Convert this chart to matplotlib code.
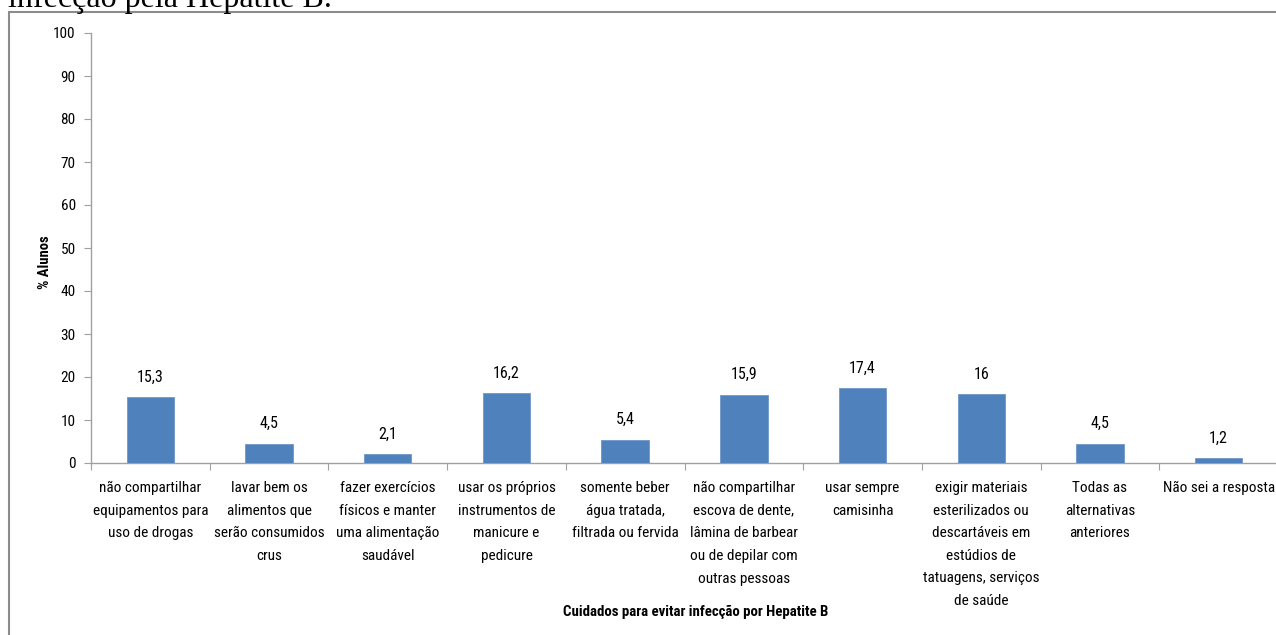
import matplotlib
matplotlib.use("Agg")
import matplotlib.pyplot as plt
from matplotlib import font_manager as fm
from matplotlib.patches import Rectangle

categories = [
    "não compartilhar\nequipamentos para\nuso de drogas",
    "lavar bem os\nalimentos que\nserão consumidos\ncrus",
    "fazer exercícios\nfísicos e manter\numa alimentação\nsaudável",
    "usar os próprios\ninstrumentos de\nmanicure e\npedicure",
    "somente beber\nágua tratada,\nfiltrada ou fervida",
    "não compartilhar\nescova de dente,\nlâmina de barbear\nou de depilar com\noutras pessoas",
    "usar sempre\ncamisinha",
    "exigir materiais\nesterilizados ou\ndescartáveis em\nestúdios de\ntatuagens, serviços\nde saúde",
    "Todas as\nalternativas\nanteriores",
    "Não sei a resposta",
]
values = [15.3, 4.5, 2.1, 16.2, 5.4, 15.9, 17.4, 16.0, 4.5, 1.2]
value_labels = ["15,3", "4,5", "2,1", "16,2", "5,4", "15,9", "17,4", "16", "4,5", "1,2"]
yticks = [0, 10, 20, 30, 40, 50, 60, 70, 80, 90, 100]
ylabel = "% Alunos"
xlabel = "Cuidados para evitar infecção por Hepatite B"
top_text = "infecção pela Hepatite B."

names = {f.name for f in fm.fontManager.ttflist}
fam = "Roboto"
for cand in ["Liberation Sans Narrow", "DejaVu Sans Condensed", "Roboto Condensed", "Open Sans Condensed"]:
    if cand in names:
        fam = cand
        break
plt.rcParams["font.family"] = [fam, "DejaVu Sans"]
narrow = fam != "Roboto"
fs = 11 if narrow else 10

W, H = 1276, 635
fig = plt.figure(figsize=(W / 100, H / 100), dpi=100)

# outer frame
fig.patches.append(Rectangle((9 / W, -0.2), 1.2, 1 - 12 / H + 0.2, transform=fig.transFigure,
                             fill=False, edgecolor="#8c8c8c", linewidth=1.5))
fig.text(8 / W, 1 - 7 / H, top_text, family="Liberation Serif", fontsize=23,
         ha="left", va="baseline", color="black")

ax = fig.add_axes([91 / W, 1 - 463 / H, (1278 - 91) / W, (463 - 33) / H])
n = len(categories)
x = list(range(n))
ax.bar(x, values, width=0.4, color="#4F81BD", edgecolor="#7097C9", linewidth=0.6, zorder=3)
for xi, v, lab in zip(x, values, value_labels):
    ax.annotate(lab, (xi, v), xytext=(0, 9), textcoords="offset points",
                ha="center", va="bottom", fontsize=fs + 0.5)

ax.set_xlim(-0.5, n - 0.5)
ax.set_ylim(0, 100)
ax.set_yticks(yticks)
ax.set_yticklabels([str(t) for t in yticks], fontsize=fs)
ax.set_xticks([i - 0.5 for i in range(n + 1)], minor=False)
ax.set_xticklabels([])
ax.set_xticks(x, minor=True)
ax.set_xticklabels(categories, minor=True, fontsize=fs, linespacing=1.78, va="top")
ax.tick_params(axis="x", which="minor", length=0, pad=13)
ax.tick_params(axis="x", which="major", length=5, color="#a0a0a0", direction="out")
ax.tick_params(axis="y", length=5, color="#a0a0a0", direction="out", pad=6)
for s in ["top", "right"]:
    ax.spines[s].set_visible(False)
for s in ["left", "bottom"]:
    ax.spines[s].set_color("#a0a0a0")
    ax.spines[s].set_linewidth(1.0)

fig.text(45 / W, 1 - 262 / H, ylabel, rotation=90, fontsize=10.5, fontweight="bold",
         ha="center", va="center")
fig.text(696 / W, 1 - 612 / H, xlabel, fontsize=10.7, fontweight="bold", ha="center", va="center")

fig.savefig("out.png", dpi=100)
